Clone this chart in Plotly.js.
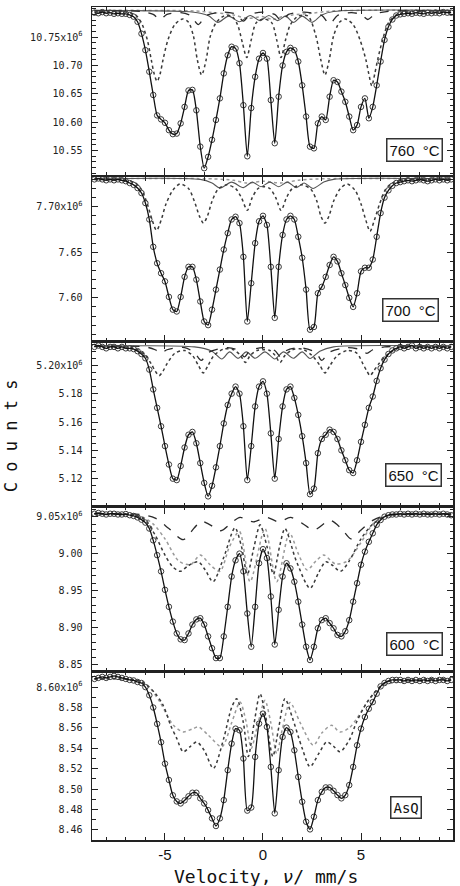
<!DOCTYPE html>
<html><head><meta charset="utf-8">
<script src="https://cdn.plot.ly/plotly-3.0.1.min.js"></script>
<style>html,body{margin:0;padding:0;background:#fff}#plot{width:460px;height:886px}</style>
</head><body><div id="plot"></div>
<script>
// ---- velocity grid (mm/s) shared by the measured spectra ----
const velocity = [-8.6,-8.4,-8.2,-8.0,-7.8,-7.6,-7.4,-7.2,-7.0,-6.8,-6.6,-6.4,-6.2,-6.0,-5.8,-5.6,-5.4,-5.2,-5.0,-4.8,-4.6,-4.4,-4.2,-4.0,-3.8,-3.6,-3.4,-3.2,-3.0,-2.8,-2.6,-2.4,-2.2,-2.0,-1.8,-1.6,-1.4,-1.2,-1.0,-0.8,-0.6,-0.4,-0.2,0.0,0.2,0.4,0.6,0.8,1.0,1.2,1.4,1.6,1.8,2.0,2.2,2.4,2.6,2.8,3.0,3.2,3.4,3.6,3.8,4.0,4.2,4.4,4.6,4.8,5.0,5.2,5.4,5.6,5.8,6.0,6.2,6.4,6.6,6.8,7.0,7.2,7.4,7.6,7.8,8.0,8.2,8.4,8.6,8.8,9.0,9.2,9.4,9.6];

// ---- counts (x10^6) ----
const counts760 = [10.793,10.792,10.794,10.792,10.793,10.791,10.792,10.791,10.791,10.789,10.786,10.777,10.756,10.727,10.689,10.648,10.612,10.605,10.599,10.586,10.579,10.580,10.598,10.627,10.656,10.657,10.621,10.557,10.519,10.539,10.569,10.604,10.642,10.686,10.718,10.733,10.730,10.704,10.630,10.540,10.625,10.680,10.712,10.722,10.712,10.639,10.563,10.645,10.700,10.724,10.731,10.727,10.707,10.665,10.610,10.557,10.554,10.598,10.610,10.604,10.645,10.674,10.671,10.654,10.636,10.610,10.586,10.595,10.627,10.642,10.607,10.627,10.665,10.707,10.745,10.768,10.781,10.788,10.790,10.791,10.792,10.791,10.793,10.792,10.791,10.793,10.792,10.793,10.792,10.794,10.793,10.793];
const counts700 = [7.730,7.731,7.730,7.729,7.730,7.729,7.730,7.729,7.728,7.726,7.724,7.7205,7.715,7.704,7.686,7.656,7.638,7.627,7.618,7.601,7.587,7.585,7.601,7.623,7.634,7.634,7.620,7.596,7.574,7.570,7.587,7.609,7.631,7.653,7.671,7.686,7.689,7.682,7.645,7.574,7.616,7.660,7.684,7.690,7.680,7.634,7.578,7.634,7.669,7.686,7.690,7.686,7.667,7.644,7.609,7.565,7.568,7.605,7.612,7.623,7.636,7.645,7.640,7.627,7.614,7.600,7.590,7.605,7.629,7.633,7.633,7.642,7.667,7.693,7.710,7.718,7.723,7.726,7.727,7.728,7.729,7.728,7.729,7.730,7.729,7.728,7.729,7.730,7.729,7.730,7.729,7.730];
const counts650 = [5.213,5.214,5.213,5.212,5.213,5.213,5.212,5.213,5.212,5.212,5.2115,5.210,5.208,5.205,5.197,5.183,5.170,5.157,5.143,5.130,5.120,5.119,5.129,5.142,5.151,5.153,5.145,5.131,5.117,5.1075,5.115,5.128,5.143,5.159,5.172,5.180,5.185,5.180,5.157,5.119,5.143,5.171,5.185,5.1887,5.180,5.152,5.120,5.148,5.171,5.183,5.185,5.177,5.165,5.150,5.131,5.109,5.113,5.138,5.148,5.151,5.1546,5.153,5.148,5.140,5.133,5.126,5.124,5.133,5.146,5.158,5.170,5.178,5.189,5.198,5.204,5.208,5.2105,5.212,5.213,5.212,5.213,5.214,5.212,5.213,5.212,5.213,5.212,5.213,5.212,5.213,5.212,5.213];
const counts600 = [9.054,9.055,9.054,9.053,9.054,9.054,9.053,9.053,9.0536,9.052,9.051,9.049,9.046,9.042,9.034,9.018,8.998,8.976,8.951,8.928,8.908,8.892,8.884,8.883,8.892,8.904,8.911,8.9126,8.904,8.888,8.872,8.8586,8.8586,8.888,8.928,8.969,8.991,9.000,8.976,8.919,8.874,8.928,8.987,9.006,8.994,8.942,8.877,8.924,8.969,8.987,8.980,8.962,8.935,8.904,8.874,8.856,8.874,8.899,8.910,8.9126,8.906,8.899,8.890,8.888,8.895,8.910,8.935,8.960,8.985,9.0027,9.016,9.0275,9.039,9.0455,9.050,9.052,9.053,9.053,9.054,9.053,9.054,9.053,9.054,9.053,9.054,9.053,9.053,9.054,9.053,9.054,9.053,9.052];
const countsAsQ = [8.608,8.609,8.610,8.609,8.610,8.611,8.610,8.609,8.608,8.607,8.6065,8.605,8.604,8.600,8.592,8.580,8.564,8.546,8.525,8.509,8.494,8.488,8.486,8.489,8.493,8.4965,8.4965,8.491,8.486,8.4795,8.4714,8.4639,8.4714,8.4893,8.5186,8.5446,8.5593,8.5577,8.530,8.479,8.482,8.5316,8.5642,8.574,8.561,8.5218,8.4763,8.5186,8.5512,8.5603,8.556,8.5381,8.512,8.4877,8.4681,8.4606,8.473,8.4893,8.4974,8.5017,8.5017,8.4984,8.4942,8.491,8.4942,8.504,8.5218,8.543,8.5593,8.5707,8.5788,8.5853,8.5935,8.6007,8.604,8.606,8.607,8.607,8.607,8.606,8.607,8.606,8.607,8.606,8.607,8.606,8.607,8.606,8.607,8.607,8.606,8.607];

// ---- fitted sub-spectra (components) ----
const sub760DotV = [-8.6,-7.0,-6.5,-6.2,-5.9,-5.7,-5.55,-5.4,-5.25,-5.1,-4.85,-4.5,-4.1,-3.8,-3.55,-3.35,-3.13,-2.9,-2.7,-2.4,-2.0,-1.6,-1.3,-1.05,-0.83,-0.6,-0.35,0.05,0.45,0.7,0.92,1.15,1.4,1.8,2.3,2.7,2.95,3.16,3.38,3.6,3.9,4.2,4.6,4.95,5.25,5.4,5.55,5.7,5.85,6.1,6.4,6.8,7.3,9.6];
const sub760DotC = [10.796,10.794,10.789,10.775,10.745,10.71,10.685,10.672,10.685,10.71,10.745,10.772,10.782,10.776,10.752,10.71,10.683,10.71,10.75,10.775,10.787,10.787,10.772,10.74,10.714,10.745,10.775,10.782,10.775,10.745,10.714,10.745,10.772,10.787,10.787,10.752,10.71,10.683,10.71,10.752,10.776,10.782,10.772,10.745,10.71,10.685,10.664,10.685,10.71,10.745,10.775,10.789,10.794,10.796];
const sub760SolV = [-8.6,-4.0,-3.2,-2.75,-2.3,-1.75,-1.2,-0.65,-0.15,0.3,0.75,1.15,1.55,2.0,2.5,3.0,3.6,9.6];
const sub760SolC = [10.797,10.795,10.792,10.787,10.776,10.787,10.777,10.788,10.779,10.788,10.779,10.787,10.776,10.787,10.776,10.789,10.795,10.797];
const sub760DashV = [-8.6,-6.2,-5.6,-5.25,-4.9,-4.2,-3.7,-3.3,-2.9,-2.0,-1.35,-1.0,-0.65,0.0,0.6,0.95,1.3,2.1,3.0,3.4,3.8,4.5,5.0,5.35,5.7,6.3,9.6];
const sub760DashC = [10.796,10.795,10.79,10.781,10.79,10.793,10.788,10.772,10.788,10.794,10.79,10.778,10.79,10.794,10.79,10.778,10.79,10.794,10.788,10.773,10.788,10.793,10.79,10.781,10.79,10.795,10.796];
const sub760LightV = [-8.6,-3.5,-2.5,-1.5,-0.8,0.0,0.5,1.0,1.5,2.5,3.5,9.6];
const sub760LightC = [10.797,10.796,10.793,10.789,10.783,10.786,10.781,10.786,10.789,10.792,10.796,10.797];

const sub700DotV = [-8.6,-7.0,-6.5,-6.2,-5.9,-5.65,-5.43,-5.2,-4.95,-4.6,-4.23,-3.8,-3.5,-3.25,-3.04,-2.83,-2.6,-2.3,-1.85,-1.4,-1.1,-0.8,-0.55,-0.25,0.05,0.35,0.65,0.92,1.2,1.5,2.0,2.45,2.75,2.95,3.16,3.37,3.6,3.95,4.3,4.7,5.0,5.25,5.46,5.68,5.95,6.25,6.6,7.1,9.6];
const sub700DotC = [7.730,7.729,7.726,7.719,7.703,7.685,7.674,7.685,7.703,7.718,7.725,7.72,7.706,7.69,7.682,7.69,7.706,7.719,7.724,7.72,7.71,7.696,7.71,7.72,7.722,7.72,7.71,7.696,7.71,7.72,7.724,7.719,7.706,7.69,7.682,7.69,7.706,7.72,7.725,7.718,7.703,7.685,7.673,7.685,7.703,7.719,7.726,7.729,7.730];
const sub700SolV = [-8.6,-3.2,-2.6,-2.2,-1.6,-1.0,-0.55,-0.1,0.35,0.8,1.25,1.7,2.1,2.55,3.1,3.6,9.6];
const sub700SolC = [7.7305,7.730,7.726,7.7205,7.727,7.721,7.727,7.722,7.727,7.722,7.727,7.721,7.726,7.720,7.727,7.730,7.7305];
const sub700LightV = [-8.6,-2.5,-1.5,-0.8,0.0,0.9,1.8,2.8,9.6];
const sub700LightC = [7.731,7.7305,7.729,7.726,7.728,7.726,7.729,7.7305,7.731];

const sub650DotV = [-8.6,-7.0,-6.4,-6.0,-5.7,-5.5,-5.3,-5.1,-4.9,-4.5,-4.0,-3.6,-3.3,-3.05,-2.8,-2.5,-2.0,-1.5,-1.15,-0.9,-0.65,-0.3,0.0,0.35,0.62,0.87,1.12,1.5,2.0,2.5,2.9,3.16,3.42,3.8,4.3,4.8,5.1,5.3,5.46,5.65,5.9,6.3,7.0,9.6];
const sub650DotC = [5.2134,5.213,5.211,5.207,5.201,5.196,5.1927,5.196,5.201,5.2085,5.2105,5.207,5.200,5.1946,5.200,5.207,5.2115,5.211,5.207,5.202,5.207,5.2105,5.211,5.2105,5.207,5.202,5.207,5.211,5.2115,5.207,5.200,5.1946,5.200,5.207,5.2105,5.2085,5.201,5.196,5.1927,5.196,5.201,5.207,5.2125,5.2134];
const sub650SolV = [-8.6,-3.5,-2.6,-2.1,-1.7,-1.27,-0.85,-0.4,0.1,0.6,1.05,1.55,2.0,2.4,2.9,3.6,9.6];
const sub650SolC = [5.2135,5.213,5.210,5.2045,5.2095,5.205,5.2095,5.205,5.2095,5.2045,5.2095,5.205,5.2095,5.2048,5.210,5.213,5.2135];
const sub650DashV = [-8.6,-6.0,-5.5,-5.2,-4.9,-4.0,-3.5,-3.15,-2.8,-1.8,-1.25,-0.95,-0.65,0.0,0.6,0.9,1.2,1.9,2.7,3.0,3.35,4.3,5.0,5.3,5.6,6.2,9.6];
const sub650DashC = [5.2134,5.213,5.211,5.2085,5.211,5.2125,5.209,5.2035,5.209,5.2125,5.2105,5.206,5.2105,5.2125,5.2105,5.206,5.2105,5.2125,5.209,5.2035,5.209,5.2125,5.211,5.2085,5.211,5.213,5.2134];

const sub600DashV = [-8.6,-6.3,-5.5,-4.8,-4.07,-3.5,-3.15,-2.7,-2.15,-1.6,-1.17,-0.5,0.2,0.8,1.41,2.0,2.6,3.42,4.0,4.5,5.0,5.6,6.3,9.6];
const sub600DashC = [9.054,9.053,9.048,9.034,9.019,9.035,9.044,9.039,9.031,9.042,9.049,9.043,9.049,9.043,9.049,9.041,9.032,9.045,9.034,9.020,9.032,9.045,9.052,9.054];
const sub600DotV = [-8.6,-6.5,-6.0,-5.5,-5.0,-4.6,-4.23,-3.8,-3.3,-2.95,-2.55,-2.0,-1.43,-1.1,-0.8,-0.45,-0.15,0.2,0.53,0.85,1.12,1.7,2.4,2.85,3.2,3.55,3.95,4.4,5.0,5.6,6.3,9.6];
const sub600DotC = [9.054,9.052,9.045,9.025,8.998,8.982,8.976,8.984,8.989,8.978,8.962,8.995,9.035,9.01,8.972,9.01,9.039,9.01,8.972,9.01,9.034,8.99,8.953,8.975,8.989,8.984,8.976,8.99,9.02,9.04,9.051,9.054];
const sub600LightV = [-8.6,-6.2,-5.6,-5.0,-4.3,-3.7,-3.2,-2.7,-2.2,-1.7,-1.2,-0.66,0.1,0.7,1.35,1.8,2.25,2.7,3.1,3.7,4.3,5.0,5.6,6.2,9.6];
const sub600LightC = [9.054,9.05,9.04,9.02,8.99,8.985,8.998,8.985,8.976,9.01,9.03,8.962,9.034,8.962,9.028,9.0,8.978,8.99,8.998,8.986,8.99,9.015,9.04,9.05,9.054];

const subAsQDotV = [-8.6,-6.5,-6.0,-5.5,-5.09,-4.7,-4.4,-4.07,-3.7,-3.38,-3.0,-2.53,-2.0,-1.6,-1.34,-1.0,-0.75,-0.45,-0.15,0.15,0.5,0.8,1.12,1.5,2.0,2.4,2.85,3.25,3.6,3.93,4.4,4.78,5.3,5.8,6.3,9.6];
const subAsQDotC = [8.608,8.607,8.603,8.594,8.582,8.562,8.5497,8.5366,8.542,8.5463,8.538,8.5204,8.55,8.58,8.5887,8.565,8.532,8.565,8.5935,8.57,8.532,8.56,8.5887,8.57,8.54,8.522,8.535,8.5463,8.542,8.5366,8.548,8.566,8.585,8.597,8.605,8.608];
const subAsQLightV = [-8.6,-6.2,-5.8,-5.26,-4.57,-4.07,-3.6,-3.3,-2.79,-2.1,-1.6,-1.17,-0.85,-0.6,-0.25,0.1,0.4,0.7,1.0,1.38,1.9,2.57,3.0,3.5,3.93,4.4,4.78,5.46,6.14,9.6];
const subAsQLightC = [8.608,8.606,8.600,8.5854,8.5626,8.5561,8.559,8.561,8.5529,8.5415,8.565,8.5854,8.565,8.540,8.565,8.587,8.565,8.535,8.56,8.585,8.565,8.543,8.555,8.5626,8.556,8.560,8.569,8.589,8.6017,8.607];

// ---- panel labels and tick labels ----
const panelLabels = ['760\u00a0\u00a0\u00b0C','700\u00a0\u00a0\u00b0C','650\u00a0\u00a0\u00b0C','600\u00a0\u00a0\u00b0C','AsQ'];
const yTickVals = [
  [10.55,10.60,10.65,10.70,10.75],
  [7.60,7.65,7.70],
  [5.12,5.14,5.16,5.18,5.20],
  [8.85,8.90,8.95,9.00,9.05],
  [8.46,8.48,8.50,8.52,8.54,8.56,8.58,8.60]
];
const yTickText = [
  ['10.55','10.60','10.65','10.70','10.75x10<sup>6</sup>'],
  ['7.60','7.65','7.70x10<sup>6</sup>'],
  ['5.12','5.14','5.16','5.18','5.20x10<sup>6</sup>'],
  ['8.85','8.90','8.95','9.00','9.05x10<sup>6</sup>'],
  ['8.46','8.48','8.50','8.52','8.54','8.56','8.58','8.60x10<sup>6</sup>']
];
const xTickVals = [-5,0,5];
const xTickText = ['-5','0','5'];

// ---- styling / layout (not data) ----
const panels = [
  {counts: counts760, subs:[[sub760LightV,sub760LightC,'light'],[sub760SolV,sub760SolC,'solid'],[sub760DashV,sub760DashC,'dash'],[sub760DotV,sub760DotC,'dot']],
   range:[10.507,10.803], dom:[0.7983,1.0], minor:0.01, box:[0.972,0.077]},
  {counts: counts700, subs:[[sub700LightV,sub700LightC,'light'],[sub700SolV,sub700SolC,'solid'],[sub700DotV,sub700DotC,'dot']],
   range:[7.552,7.7326], dom:[0.5984,0.7959], minor:0.01, box:[0.961,0.12]},
  {counts: counts650, subs:[[sub650SolV,sub650SolC,'solid'],[sub650DashV,sub650DashC,'dash'],[sub650DotV,sub650DotC,'dot']],
   range:[5.1002,5.2168], dom:[0.4001,0.5984], minor:0.005, box:[0.9695,0.121]},
  {counts: counts600, subs:[[sub600LightV,sub600LightC,'light'],[sub600DotV,sub600DotC,'dot'],[sub600DashV,sub600DashC,'dash']],
   range:[8.8405,9.0635], dom:[0.2023,0.4001], minor:0.01, box:[0.972,0.094]},
  {counts: countsAsQ, subs:[[subAsQLightV,subAsQLightC,'light'],[subAsQDotV,subAsQDotC,'dot']],
   range:[8.4502,8.6153], dom:[0.0,0.2023], minor:0.01, box:[0.914,0.124]}
];
const subStyle = {
  dot:   {color:'#3a3a3a', width:1.5, dash:'dot'},
  light: {color:'#9a9a9a', width:1.5, dash:'dot'},
  dash:  {color:'#2a2a2a', width:1.3, dash:'dash'},
  solid: {color:'#555555', width:1.1, dash:'solid'}
};

const traces = [];
const layout = {
  width:460, height:886,
  margin:{l:92, r:7, t:7, b:46},
  paper_bgcolor:'#fff', plot_bgcolor:'#fff',
  showlegend:false,
  font:{family:'DejaVu Sans Mono', color:'#222'},
  annotations:[]
};

panels.forEach((p, i) => {
  const n = i + 1;
  const xa = n === 1 ? 'x' : 'x' + n;
  const ya = n === 1 ? 'y' : 'y' + n;
  p.subs.forEach(s => {
    traces.push({x:s[0], y:s[1], xaxis:xa, yaxis:ya, type:'scatter', mode:'lines',
      line:Object.assign({shape:'spline', smoothing:0.8}, subStyle[s[2]]), hoverinfo:'skip'});
  });
  traces.push({x:velocity, y:p.counts, xaxis:xa, yaxis:ya, type:'scatter', mode:'markers',
    marker:{symbol:'circle-open', size:5.5, color:'#3a3a3a', line:{width:1}}});
  traces.push({x:velocity, y:p.counts, xaxis:xa, yaxis:ya, type:'scatter', mode:'lines',
    line:{color:'#111', width:1.3, shape:'spline', smoothing:0.6}});

  layout['xaxis' + (n === 1 ? '' : n)] = {
    anchor: ya, range:[-8.724, 9.694], domain:[0,1],
    showline:true, linecolor:'#222', linewidth:1.5, mirror:'ticks',
    ticks:'inside', ticklen:7, tickwidth:1, tickcolor:'#222',
    tickmode:'array', tickvals:xTickVals, ticktext:xTickText,
    minor:{dtick:1, tick0:0, ticks:'inside', ticklen:3.5, tickcolor:'#222', showgrid:false},
    showticklabels: n === 5,
    tickfont:{family:'Liberation Sans', size:15, color:'#111'},
    showgrid:false, zeroline:false
  };
  layout['yaxis' + (n === 1 ? '' : n)] = {
    anchor: xa, domain:p.dom, range:p.range,
    showline:true, linecolor:'#222', linewidth:1.5, mirror:'ticks',
    ticks:'inside', ticklen:6, tickwidth:1, tickcolor:'#222',
    tickmode:'array', tickvals:yTickVals[i], ticktext:yTickText[i],
    minor:{dtick:p.minor, tick0:0, ticks:'inside', ticklen:3.5, tickcolor:'#222', showgrid:false},
    tickfont:{family:'DejaVu Sans Mono', size:10, color:'#222'},
    ticklabelstandoff:6,
    showgrid:false, zeroline:false
  };
  layout.annotations.push({
    text:panelLabels[i], xref:xa + ' domain', yref:ya + ' domain',
    x:p.box[0], y:p.box[1], xanchor:'right', yanchor:'bottom', showarrow:false,
    font:{family: n === 5 ? 'DejaVu Sans Mono' : 'Liberation Sans', size: n === 5 ? 14 : 15, color:'#111'},
    bordercolor:'#333', borderwidth:1.5, borderpad:2, bgcolor:'#fff'
  });
});

layout.annotations.push({
  text:'Velocity, <i>\u03bd</i>/ mm/s', xref:'paper', yref:'paper', x:0.482, y:-0.0444,
  xanchor:'center', yanchor:'middle', showarrow:false,
  font:{family:'DejaVu Sans Mono', size:18, color:'#111'}
});
layout.annotations.push({
  text:'C o u n t s', xref:'paper', yref:'paper', x:-0.2244, y:0.486,
  xanchor:'center', yanchor:'middle', showarrow:false, textangle:-90,
  font:{family:'DejaVu Sans Mono', size:17, color:'#111'}
});

Plotly.newPlot('plot', traces, layout, {staticPlot:true, displayModeBar:false});
</script>
</body></html>
